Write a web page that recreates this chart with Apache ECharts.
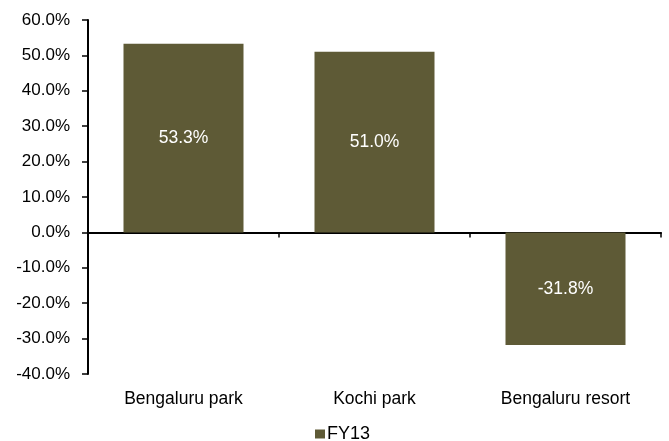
<!DOCTYPE html>
<html><head><meta charset="utf-8">
<script src="https://cdn.jsdelivr.net/npm/echarts@6/dist/echarts.min.js"></script>
<style>html,body{margin:0;padding:0;background:#fff}#c{width:669px;height:441px}</style>
</head><body><div id="c"></div>
<script>
const categories = ['Bengaluru park', 'Kochi park', 'Bengaluru resort'];
const seriesName = 'FY13';
const values = [53.3, 51.0, -31.8];
const yMin = -40, yMax = 60, yStep = 10;

const chart = echarts.init(document.getElementById('c'));
const font = 'Arial, "Liberation Sans", sans-serif';
const fs = 17;
chart.setOption({
  animation: false,
  textStyle: { fontFamily: font },
  grid: { left: 88, right: 8, top: 20, bottom: 67, containLabel: false },
  legend: {
    data: [seriesName], top: 425, left: 315, padding: 0, icon: 'rect',
    itemWidth: 10, itemHeight: 9, itemGap: 10,
    textStyle: { fontSize: 18, color: '#000', fontFamily: font, padding: [0,0,0,-3] }
  },
  xAxis: [
    { type: 'category', data: categories, position: 'bottom',
      axisLine: { show: false, onZero: false }, axisTick: { show: false },
      axisLabel: { fontSize: 17.5, color: '#000', margin: 16, fontFamily: font } },
    { type: 'category', data: categories, position: 'bottom',
      axisLine: { show: true, onZero: true, lineStyle: { color: '#000', width: 2 } },
      axisTick: { show: true, inside: false, length: 5, lineStyle: { color: '#000', width: 1.5 } },
      axisLabel: { show: false } }
  ],
  yAxis: {
    type: 'value', min: yMin, max: yMax, interval: yStep,
    axisLine: { show: true, lineStyle: { color: '#000', width: 2 } },
    axisTick: { show: true, length: 6, lineStyle: { color: '#000', width: 1.5 } },
    splitLine: { show: false },
    axisLabel: { fontSize: fs, color: '#000', margin: 18, fontFamily: font,
      formatter: v => v.toFixed(1) + '%' }
  },
  series: [{
    name: seriesName, type: 'bar', data: values, barWidth: 120, xAxisIndex: 0,
    itemStyle: { color: '#5e5a36' },
    label: { show: true, position: 'inside', color: '#fff', fontSize: 17.5, fontFamily: font,
      formatter: p => p.value.toFixed(1) + '%' }
  }]
});
</script></body></html>
